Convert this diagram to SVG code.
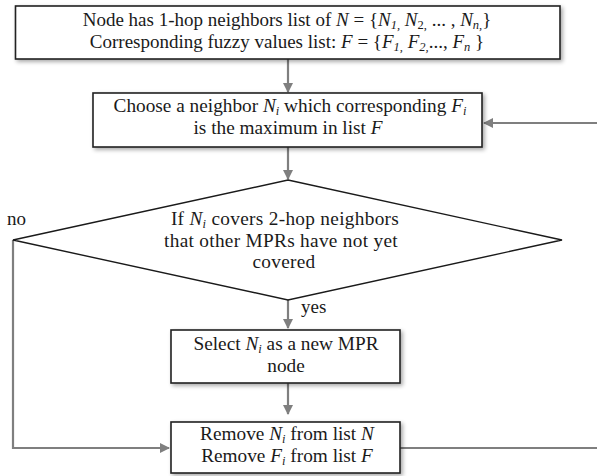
<svg xmlns="http://www.w3.org/2000/svg" width="597" height="476" viewBox="0 0 597 476">
<defs>
<filter id="sh" x="-10%" y="-20%" width="120%" height="150%">
<feGaussianBlur in="SourceAlpha" stdDeviation="2"/>
<feOffset dx="2" dy="2" result="b"/>
<feComponentTransfer><feFuncA type="linear" slope="0.35"/></feComponentTransfer>
<feMerge><feMergeNode/><feMergeNode in="SourceGraphic"/></feMerge>
</filter>
<marker id="ah" markerWidth="10" markerHeight="10" refX="9" refY="5" orient="auto" markerUnits="userSpaceOnUse">
<path d="M0,0 L10,5 L0,10 Z" fill="#7f7f7f"/>
</marker>
</defs>
<style>
.box{fill:#fff;stroke:#222;stroke-width:1.6}
.dia{fill:#fff;stroke:#1a1a1a;stroke-width:1.4}
.t{font-family:"Liberation Serif","Times New Roman",serif;font-size:19.3px;fill:#1a1a1a;text-anchor:middle}
.d{font-size:19.3px;letter-spacing:0.3px}
.b1{font-size:19px}
.l{font-family:"Liberation Serif","Times New Roman",serif;font-size:19px;fill:#1a1a1a}
.i{font-style:italic}
.s{font-size:12.5px;font-style:italic}
.c{fill:none;stroke:#7f7f7f;stroke-width:2.2}
</style>
<rect width="597" height="476" fill="#fff"/>
<g id="connectors">
<line class="c" x1="288" y1="59" x2="288" y2="92" marker-end="url(#ah)"/>
<line class="c" x1="597" y1="123" x2="484" y2="123" marker-end="url(#ah)"/>
<line class="c" x1="288" y1="147" x2="288" y2="179" marker-end="url(#ah)"/>
<line class="c" x1="288" y1="300" x2="288" y2="328" marker-end="url(#ah)"/>
<line class="c" x1="288" y1="383" x2="288" y2="414" marker-end="url(#ah)"/>
<polyline class="c" points="13,240 13,448 169,448" marker-end="url(#ah)"/>
<line class="c" x1="400" y1="448" x2="597" y2="448"/>
</g>
<g id="n1">
<rect class="box" x="15.5" y="6" width="544.5" height="53" filter="url(#sh)"/>
<text class="t b1"><tspan x="287" y="26">Node has 1-hop neighbors list of </tspan><tspan class="i">N</tspan> = {<tspan class="i">N</tspan><tspan class="s" dy="3">1,</tspan><tspan dy="-3"> </tspan><tspan class="i">N</tspan><tspan dy="3" font-size="12.5">2,</tspan><tspan dy="-3"> ... , </tspan><tspan class="i">N</tspan><tspan class="s" dy="3">n,</tspan><tspan dy="-3">}</tspan><tspan x="287" y="48">Corresponding fuzzy values list: </tspan><tspan class="i">F</tspan> = {<tspan class="i">F</tspan><tspan class="s" dy="3">1,</tspan><tspan dy="-3"> </tspan><tspan class="i">F</tspan><tspan class="s" dy="3">2,</tspan><tspan dy="-3">..., </tspan><tspan class="i">F</tspan><tspan class="s" dy="3">n</tspan><tspan dy="-3"> }</tspan></text>
</g>
<g id="n2">
<rect class="box" x="93" y="93" width="389" height="54" filter="url(#sh)"/>
<text class="t"><tspan x="290" y="112">Choose a neighbor </tspan><tspan class="i">N</tspan><tspan class="s" dy="3">i</tspan><tspan dy="-3"> which corresponding </tspan><tspan class="i">F</tspan><tspan class="s" dy="3">i</tspan><tspan x="288" y="134">is the maximum in list </tspan><tspan class="i">F</tspan></text>
</g>
<g id="n3">
<polygon class="dia" points="288,180 562,240 288,300 13,240"/>
<text class="t d"><tspan x="285" y="225">If </tspan><tspan class="i">N</tspan><tspan class="s" dy="3">i</tspan><tspan dy="-3"> covers 2-hop neighbors</tspan><tspan x="281" y="246.5">that other MPRs have not yet</tspan><tspan x="284" y="268">covered</tspan></text>
</g>
<g id="n4">
<rect class="box" x="171" y="330" width="229" height="53" filter="url(#sh)"/>
<text class="t"><tspan x="286" y="350">Select </tspan><tspan class="i">N</tspan><tspan class="s" dy="3">i</tspan><tspan dy="-3"> as a new MPR</tspan><tspan x="286" y="372">node</tspan></text>
</g>
<g id="n5">
<rect class="box" x="171" y="422" width="229" height="51" filter="url(#sh)"/>
<text class="t"><tspan x="287" y="440">Remove </tspan><tspan class="i">N</tspan><tspan class="s" dy="3">i</tspan><tspan dy="-3"> from list </tspan><tspan class="i">N</tspan><tspan x="287" y="462">Remove </tspan><tspan class="i">F</tspan><tspan class="s" dy="3">i</tspan><tspan dy="-3"> from list </tspan><tspan class="i">F</tspan></text>
</g>
<g id="labels">
<text class="l" x="7" y="225">no</text>
<text class="l" x="301" y="313">yes</text>
</g>
</svg>
